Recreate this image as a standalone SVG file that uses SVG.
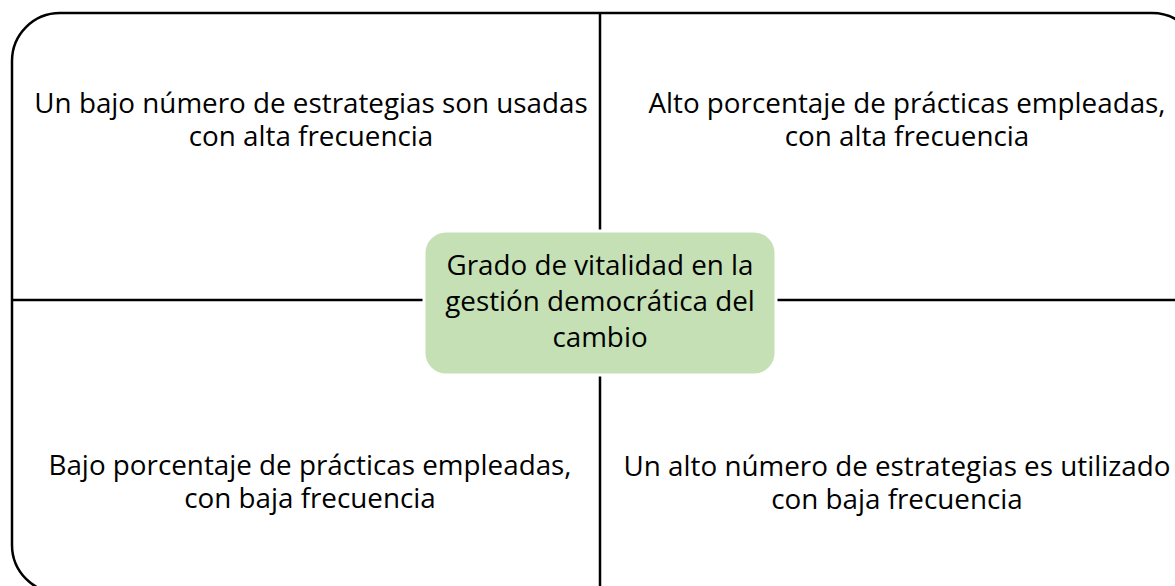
<svg xmlns="http://www.w3.org/2000/svg" width="1175" height="586" viewBox="0 0 1175 586">
<style>
.frame{fill:none;stroke:#000;stroke-width:2.5}
.axis{stroke:#000;stroke-width:2.5}
.t{font-family:"Open Sans","Liberation Sans",sans-serif;font-size:27.8px;fill:#000;text-anchor:middle;font-variant-ligatures:none}
.center{fill:#c5e0b4;stroke:#fff;stroke-width:3}
</style>
<rect width="1175" height="586" fill="#fff"/>
<g id="connectors">
<rect class="frame" x="12" y="13" width="1188" height="580" rx="48" ry="48"/>
<line class="axis" x1="600" y1="13" x2="600" y2="593"/>
<line class="axis" x1="12" y1="300" x2="1200" y2="300"/>
</g>
<g id="center">
<rect class="center" x="424" y="231" width="352" height="144" rx="22" ry="22"/>
<text class="t" x="600" y="275">Grado de vitalidad en la</text>
<text class="t" x="600" y="311">gestión democrática del</text>
<text class="t" x="600" y="347">cambio</text>
</g>
<g id="q1">
<text class="t" x="311" y="113">Un bajo número de estrategias son usadas</text>
<text class="t" x="311" y="146">con alta frecuencia</text>
</g>
<g id="q2">
<text class="t" x="907" y="113">Alto porcentaje de prácticas empleadas,</text>
<text class="t" x="907" y="146">con alta frecuencia</text>
</g>
<g id="q3">
<text class="t" x="310" y="475">Bajo porcentaje de prácticas empleadas,</text>
<text class="t" x="310" y="508">con baja frecuencia</text>
</g>
<g id="q4">
<text class="t" x="897" y="476">Un alto número de estrategias es utilizado</text>
<text class="t" x="897" y="509">con baja frecuencia</text>
</g>
</svg>
